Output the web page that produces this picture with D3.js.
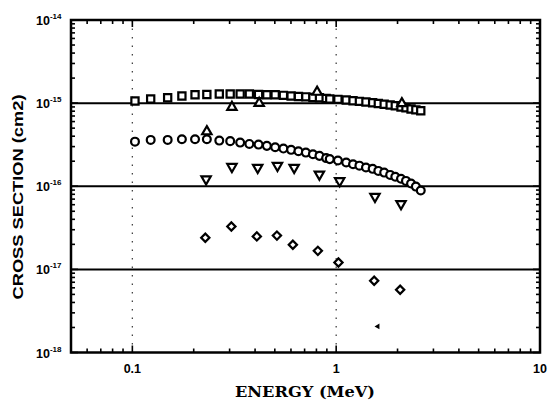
<!DOCTYPE html>
<html>
<head>
<meta charset="utf-8">
<script src="https://cdn.jsdelivr.net/npm/d3@7"></script>
<style>
  body { margin: 0; background: #fff; }
  text { fill: #000; }
</style>
</head>
<body>
<div id="chart"></div>
<script>
// energies (MeV) for the dense measured curves
var curveEnergy = [0.103, 0.123, 0.149, 0.175, 0.203, 0.232, 0.267, 0.302, 0.338, 0.375,
    0.416, 0.457, 0.502, 0.551, 0.601, 0.653, 0.71, 0.769, 0.828, 0.893,
    0.93, 1.02, 1.12, 1.21, 1.3, 1.4, 1.51, 1.61, 1.72, 1.84, 1.95, 2.08, 2.2, 2.33, 2.46, 2.6];
// squares (cm2)
var squareSigma = [1.06e-15, 1.12e-15, 1.16e-15, 1.22e-15, 1.26e-15, 1.27e-15, 1.29e-15, 1.29e-15, 1.29e-15, 1.29e-15,
    1.27e-15, 1.26e-15, 1.26e-15, 1.24e-15, 1.22e-15, 1.20e-15, 1.19e-15, 1.17e-15, 1.16e-15, 1.14e-15,
    1.12e-15, 1.11e-15, 1.09e-15, 1.07e-15, 1.05e-15, 1.03e-15, 1.01e-15, 0.99e-15, 0.97e-15, 0.95e-15,
    0.93e-15, 0.90e-15, 0.88e-15, 0.85e-15, 0.83e-15, 0.81e-15];
// circles (cm2)
var circleSigma = [3.44e-16, 3.61e-16, 3.61e-16, 3.68e-16, 3.68e-16, 3.68e-16, 3.54e-16, 3.49e-16, 3.35e-16, 3.23e-16,
    3.17e-16, 3.06e-16, 2.95e-16, 2.84e-16, 2.74e-16, 2.64e-16, 2.54e-16, 2.43e-16, 2.32e-16, 2.18e-16,
    2.12e-16, 2.04e-16, 1.93e-16, 1.84e-16, 1.77e-16, 1.68e-16, 1.62e-16, 1.53e-16, 1.46e-16, 1.37e-16,
    1.30e-16, 1.23e-16, 1.16e-16, 1.08e-16, 0.99e-16, 0.89e-16];
// triangles up
var upEnergy = [0.232, 0.308, 0.419, 0.806, 2.1];
var upSigma = [4.55e-16, 8.93e-16, 9.97e-16, 1.36e-15, 9.9e-16];
// triangles down
var downEnergy = [0.23, 0.308, 0.412, 0.515, 0.622, 0.827, 1.04, 1.55, 2.08];
var downSigma = [1.22e-16, 1.72e-16, 1.68e-16, 1.77e-16, 1.68e-16, 1.39e-16, 1.16e-16, 7.52e-17, 6.14e-17];
// diamonds
var diamondEnergy = [0.228, 0.306, 0.408, 0.512, 0.613, 0.813, 1.026, 1.536, 2.06];
var diamondSigma = [2.40e-17, 3.28e-17, 2.49e-17, 2.55e-17, 1.98e-17, 1.67e-17, 1.21e-17, 7.30e-18, 5.69e-18];
// small filled mark
var dashEnergy = [1.6];
var dashSigma = [2.06e-18];

var xTicks = [0.1, 1, 10],
    xTickLabels = ["0.1", "1", "10"],
    yTicks = [1e-18, 1e-17, 1e-16, 1e-15, 1e-14],
    yTickExp = ["-18", "-17", "-16", "-15", "-14"];

(function () {
    var width = 548, height = 401,
        mLeft = 71, mRight = 540, mTop = 20, mBottom = 352.5;

    var x = d3.scaleLog().domain([0.05, 10]).range([mLeft, mRight]);
    var y = d3.scaleLog().domain([1e-18, 1e-14]).range([mBottom, mTop]);

    var svg = d3.select("#chart").append("svg")
        .attr("width", width)
        .attr("height", height);

    // minor tick values
    var xMinor = [], yMinor = [];
    [0.01, 0.1, 1].forEach(function (d) {
        for (var k = 1; k <= 9; k++) {
            var v = +(d * k).toPrecision(3);
            if (v >= 0.05 && v <= 10) xMinor.push(v);
        }
    });
    [1e-18, 1e-17, 1e-16, 1e-15].forEach(function (d) {
        for (var k = 1; k <= 9; k++) yMinor.push({v: d * k, major: k === 1});
    });

    // horizontal grid lines
    svg.append("g").selectAll("line")
        .data([1e-17, 1e-16, 1e-15])
        .enter().append("line")
        .attr("x1", mLeft).attr("x2", mRight)
        .attr("y1", function (d) { return y(d); })
        .attr("y2", function (d) { return y(d); })
        .attr("stroke", "#000").attr("stroke-width", 2);

    // vertical dotted grid lines
    svg.append("g").selectAll("line")
        .data([0.1, 1])
        .enter().append("line")
        .attr("x1", function (d) { return x(d); })
        .attr("x2", function (d) { return x(d); })
        .attr("y1", mTop).attr("y2", mBottom)
        .attr("stroke", "#444").attr("stroke-width", 1.3)
        .attr("stroke-dasharray", "1.5,7");

    // inward ticks
    var tk = svg.append("g").attr("stroke", "#000").attr("stroke-width", 1.6);
    xMinor.forEach(function (v) {
        var len = (v === 0.1 || v === 1) ? 7 : 4;
        tk.append("line").attr("x1", x(v)).attr("x2", x(v)).attr("y1", mBottom).attr("y2", mBottom - len);
        tk.append("line").attr("x1", x(v)).attr("x2", x(v)).attr("y1", mTop).attr("y2", mTop + len);
    });
    yMinor.forEach(function (d) {
        var len = d.major ? 7 : 4;
        tk.append("line").attr("y1", y(d.v)).attr("y2", y(d.v)).attr("x1", mLeft).attr("x2", mLeft + len);
        tk.append("line").attr("y1", y(d.v)).attr("y2", y(d.v)).attr("x1", mRight).attr("x2", mRight - len);
    });

    // frame
    svg.append("rect")
        .attr("x", mLeft).attr("y", mTop)
        .attr("width", mRight - mLeft).attr("height", mBottom - mTop)
        .attr("fill", "none").attr("stroke", "#000").attr("stroke-width", 2.5);

    // x tick labels
    svg.append("g").selectAll("text")
        .data(xTicks)
        .enter().append("text")
        .attr("x", function (d) { return x(d); })
        .attr("y", mBottom + 20)
        .attr("text-anchor", "middle")
        .attr("font-family", "Liberation Sans, Arial, sans-serif")
        .attr("font-weight", "bold")
        .attr("font-size", 12.5)
        .text(function (d, i) { return xTickLabels[i]; });

    // y tick labels
    var yl = svg.append("g").selectAll("text")
        .data(yTicks)
        .enter().append("text")
        .attr("x", 36)
        .attr("y", function (d) { return y(d) + 5; })
        .attr("font-family", "Liberation Sans, Arial, sans-serif")
        .attr("font-weight", "bold")
        .attr("font-size", 12.5);
    yl.append("tspan").text("10");
    yl.append("tspan")
        .attr("font-size", 8)
        .attr("dy", -6)
        .text(function (d, i) { return yTickExp[i]; });

    // axis titles
    svg.append("text")
        .attr("transform", "translate(23,197) rotate(-90)")
        .attr("text-anchor", "middle")
        .attr("font-family", "Liberation Sans, Arial, sans-serif")
        .attr("font-weight", "bold")
        .attr("font-size", 15)
        .attr("textLength", 205)
        .attr("lengthAdjust", "spacingAndGlyphs")
        .text("CROSS SECTION (cm2)");

    svg.append("text")
        .attr("x", 305)
        .attr("y", 397)
        .attr("text-anchor", "middle")
        .attr("font-family", "DejaVu Serif, Liberation Serif, serif")
        .attr("font-weight", "bold")
        .attr("font-size", 14)
        .attr("textLength", 140)
        .attr("lengthAdjust", "spacingAndGlyphs")
        .text("ENERGY (MeV)");

    // markers
    function series(xs, ys, type, size, rot) {
        var sym = d3.symbol().type(type).size(size);
        svg.append("g").selectAll("path")
            .data(xs.map(function (d, i) { return [d, ys[i]]; }))
            .enter().append("path")
            .attr("d", sym)
            .attr("transform", function (d) {
                return "translate(" + x(d[0]) + "," + y(d[1]) + ")" + (rot ? " rotate(" + rot + ")" : "");
            })
            .attr("fill", "#fff")
            .attr("stroke", "#000")
            .attr("stroke-width", 2.2);
    }

    series(curveEnergy, squareSigma, d3.symbolSquare, 52, 0);
    series(curveEnergy, circleSigma, d3.symbolCircle, 48, 0);
    series(upEnergy, upSigma, d3.symbolTriangle, 38, 0);
    series(downEnergy, downSigma, d3.symbolTriangle, 38, 180);
    series(diamondEnergy, diamondSigma, d3.symbolSquare, 34, 45);

    svg.append("g").selectAll("path")
        .data(dashEnergy.map(function (d, i) { return [d, dashSigma[i]]; }))
        .enter().append("path")
        .attr("d", d3.symbol().type(d3.symbolTriangle).size(14))
        .attr("transform", function (d) { return "translate(" + x(d[0]) + "," + y(d[1]) + ") rotate(-90)"; })
        .attr("fill", "#000");
})();
</script>
</body>
</html>
